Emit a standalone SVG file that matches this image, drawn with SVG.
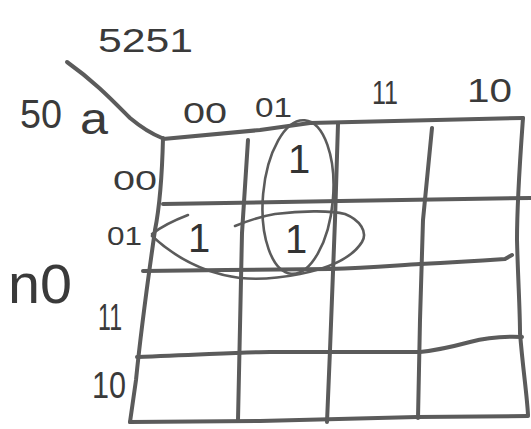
<svg xmlns="http://www.w3.org/2000/svg" width="531" height="429" viewBox="0 0 531 429">
<style>
.ln{fill:none;stroke:#5b5b5b;stroke-width:4;stroke-linecap:round;stroke-linejoin:round}
.lo{fill:none;stroke:#5b5b5b;stroke-width:2.6;stroke-linecap:round}
.t{font-family:"Liberation Sans","DejaVu Sans",sans-serif;fill:#3a3a3a}
.one{font-family:"Liberation Sans",sans-serif;fill:#333;text-anchor:middle;font-size:40px}
</style>
<rect width="531" height="429" fill="#fff"/>
<g id="labels">
<text class="t" x="98" y="52" font-size="34" textLength="95" lengthAdjust="spacingAndGlyphs">5251</text>
<text class="t" x="20" y="128" font-size="40" textLength="42" lengthAdjust="spacingAndGlyphs">50</text>
<text class="t" x="80" y="134" font-size="44" textLength="28" lengthAdjust="spacingAndGlyphs">a</text>
<text class="t" x="183" y="123" font-size="30" textLength="44" lengthAdjust="spacingAndGlyphs">00</text>
<text class="t" x="255" y="117" font-size="28" textLength="37" lengthAdjust="spacingAndGlyphs">01</text>
<text class="t" x="372" y="104" font-size="34" textLength="26" lengthAdjust="spacingAndGlyphs">11</text>
<text class="t" x="467" y="102" font-size="34" textLength="45" lengthAdjust="spacingAndGlyphs">10</text>
<text class="t" x="113" y="190" font-size="28" textLength="44" lengthAdjust="spacingAndGlyphs">00</text>
<text class="t" x="107" y="245" font-size="26" textLength="35" lengthAdjust="spacingAndGlyphs">01</text>
<text class="t" x="98" y="330" font-size="36" textLength="24" lengthAdjust="spacingAndGlyphs">11</text>
<text class="t" x="92" y="398" font-size="36" textLength="34" lengthAdjust="spacingAndGlyphs">10</text>
<text class="t" x="8" y="303" font-size="56" textLength="64" lengthAdjust="spacingAndGlyphs">n0</text>
</g>
<g id="grid">
<path class="ln" d="M67,62 C95,82 112,100 130,118 C142,128 152,134 162,138"/>
<path class="ln" d="M163,139 L260,130 L310,123 L523,118"/>
<path class="ln" d="M523,118 C520,160 517,200 517,240 C518,280 520,310 520,333 C523,370 527,395 528,415"/>
<path class="ln" d="M130,422 L260,421 L417,417 L528,416"/>
<path class="ln" d="M163,138 C162,180 160,205 155,230 C148,280 142,320 136,380 L130,422"/>
<path class="ln" d="M163,204 L340,201 L531,198"/>
<path class="ln" d="M143,271 C200,270 280,270 330,269 C370,268 400,265 420,264 C460,262 490,260 505,259 L512,255"/>
<path class="ln" d="M137,357 C200,355 240,352 270,352 L420,352 C440,350 455,346 470,342 C485,338 500,336 522,337"/>
<path class="ln" d="M248,140 L242,233 L238,420"/>
<path class="ln" d="M338,124 L335,220 L330,350 L327,422"/>
<path class="ln" d="M432,128 L423,220 L420,320 L418,418"/>
</g>
<g id="groups">
<ellipse class="lo" cx="298" cy="197" rx="35" ry="77" transform="rotate(5 298 197)"/>
<path class="lo" d="M152,234 C162,226 175,220 188,215"/>
<path class="lo" d="M235,226 C250,220 262,216 275,214 C300,211 330,210 345,214 C360,220 368,232 362,242 C352,258 330,268 300,274 C280,278 260,280 240,278 C210,274 180,262 152,236"/>
</g>
<g id="cells">
<text class="one" x="199" y="252">1</text>
<text class="one" x="299" y="173">1</text>
<text class="one" x="296" y="253">1</text>
</g>
</svg>
